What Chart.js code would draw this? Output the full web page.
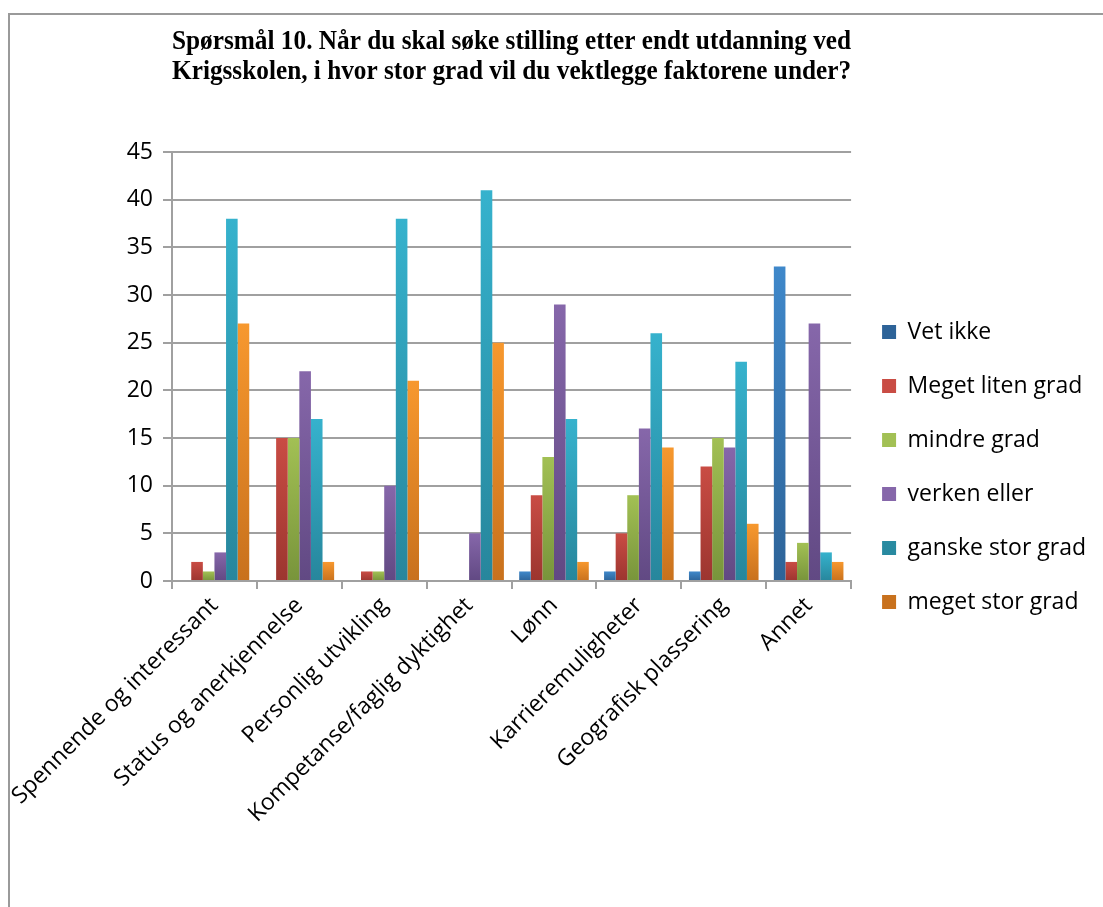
<!DOCTYPE html>
<html>
<head>
<meta charset="utf-8">
<script src="https://cdn.jsdelivr.net/npm/chart.js@4/dist/chart.umd.min.js"></script>
<style>
  body { margin: 0; background: #fff; overflow: hidden; }
  #frame { position: absolute; left: 8px; top: 13px; width: 1100px; height: 1000px; border: 2px solid #9a9a9a; background: #fff; }
  #wrap { position: absolute; left: 0; top: 0; width: 1103px; height: 940px; }
</style>
</head>
<body>
<div id="frame"></div>
<div id="wrap"><canvas id="myChart" width="1103" height="940"></canvas></div>
<script>
// categories (x axis)
var categories = [
    "Spennende og interessant",
    "Status og anerkjennelse",
    "Personlig utvikling",
    "Kompetanse/faglig dyktighet",
    "Lønn",
    "Karrieremuligheter",
    "Geografisk plassering",
    "Annet"
];

// answers per category
var vetIkke    = [0, 0, 0, 0, 1, 1, 1, 33];
var megetLiten = [2, 15, 1, 0, 9, 5, 12, 2];
var mindreGrad = [1, 15, 1, 0, 13, 9, 15, 4];
var verken     = [3, 22, 10, 5, 29, 16, 14, 27];
var ganskeStor = [38, 17, 38, 41, 17, 26, 23, 3];
var megetStor  = [27, 2, 21, 25, 2, 14, 6, 2];

var seriesNames = ["Vet ikke", "Meget liten grad", "mindre grad", "verken eller", "ganske stor grad", "meget stor grad"];
var yMax = 45;
var yStep = 5;

var titleLines = [
    "Spørsmål 10. Når du skal søke stilling etter endt utdanning ved",
    "Krigsskolen, i hvor stor grad vil du vektlegge faktorene under?"
];

// light top -> dark bottom, like the office gradient fill
function barFill(top, bottom) {
    return function (c) {
        if (c.type !== 'data') return top;
        var chart = c.chart;
        if (!chart.chartArea || !chart.scales.y) return top;
        var y0 = chart.scales.y.getPixelForValue(0);
        var y1 = chart.scales.y.getPixelForValue(c.raw);
        if (!isFinite(y1) || y0 - y1 < 1) return bottom;
        var g = chart.ctx.createLinearGradient(0, y1, 0, y0);
        g.addColorStop(0, top);
        g.addColorStop(1, bottom);
        return g;
    };
}

var font = "'Open Sans', 'Liberation Sans', sans-serif";

var ctx = document.getElementById("myChart");
var chart = new Chart(ctx, {
    type: 'bar',
    data: {
        labels: categories,
        datasets: [
            { label: seriesNames[0], data: vetIkke,    backgroundColor: barFill('#3f88ca', '#2d6398') },
            { label: seriesNames[1], data: megetLiten, backgroundColor: barFill('#c94c44', '#9c352f') },
            { label: seriesNames[2], data: mindreGrad, backgroundColor: barFill('#a2c054', '#78943b') },
            { label: seriesNames[3], data: verken,     backgroundColor: barFill('#8667aa', '#614983') },
            { label: seriesNames[4], data: ganskeStor, backgroundColor: barFill('#36b2cd', '#27869c') },
            { label: seriesNames[5], data: megetStor,  backgroundColor: barFill('#f7982e', '#c8711d') }
        ]
    },
    options: {
        responsive: false,
        animation: false,
        datasets: {
            bar: { categoryPercentage: 0.82, barPercentage: 1.0 }
        },
        layout: { padding: { left: 10, right: 7, top: 0, bottom: 6 } },
        plugins: {
            title: {
                display: true,
                fullSize: false,
                align: 'start',
                text: titleLines,
                color: '#000',
                font: { family: "'Liberation Serif', 'Times New Roman', serif", size: 28, weight: 'bold', lineHeight: 30 / 28 },
                padding: { top: 27, bottom: 65 }
            },
            legend: {
                position: 'right',
                labels: {
                    color: '#000',
                    font: { family: font, size: 23 },
                    boxWidth: 14,
                    boxHeight: 14,
                    padding: 31
                }
            },
            tooltip: { enabled: false }
        },
        scales: {
            x: {
                afterFit: function (scale) { scale.height = 353; },
                grid: { display: true, drawOnChartArea: false, offset: true, color: '#a0a0a0', lineWidth: 2, tickLength: 8 },
                border: { color: '#a0a0a0', width: 2 },
                ticks: { color: '#000', font: { family: font, size: 23 }, minRotation: 45, maxRotation: 45, autoSkip: false }
            },
            y: {
                min: 0,
                max: yMax,
                afterFit: function (scale) { scale.width = 162; },
                grid: { color: '#a0a0a0', lineWidth: 2, tickLength: 9 },
                border: { color: '#a0a0a0', width: 2 },
                ticks: { stepSize: yStep, color: '#000', font: { family: font, size: 23 }, padding: 10 }
            }
        }
    }
});
</script>
</body>
</html>
